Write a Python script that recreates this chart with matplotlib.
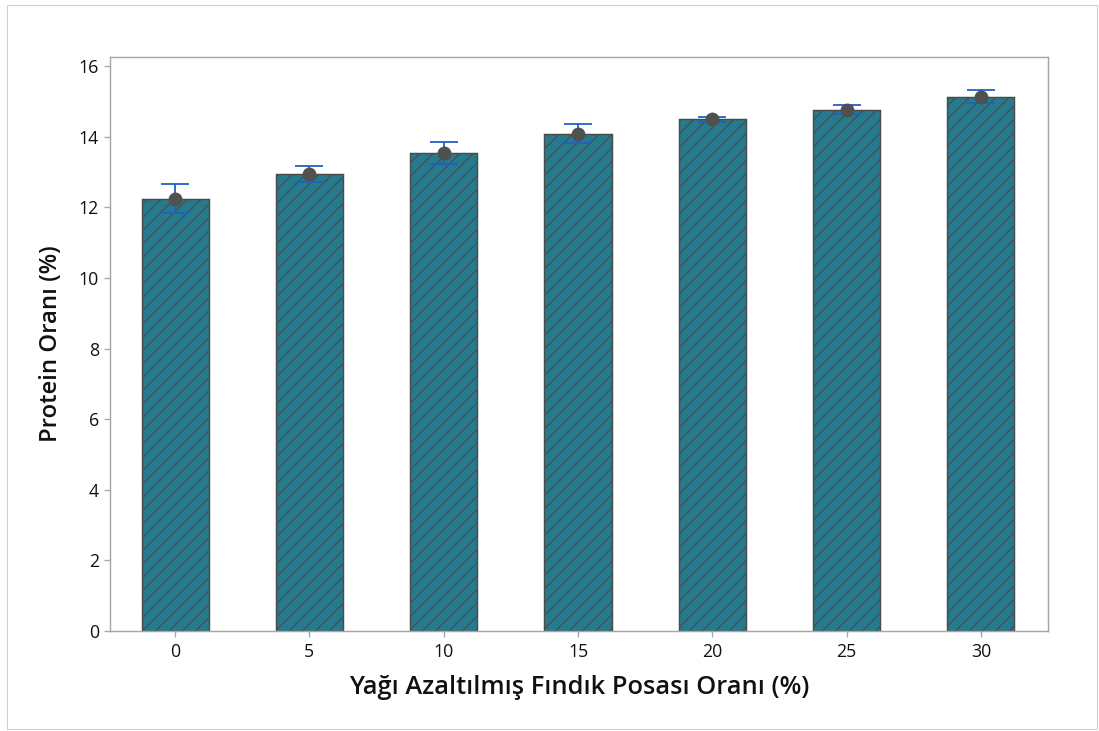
import matplotlib
matplotlib.use("Agg")
import matplotlib.pyplot as plt
from matplotlib.patches import Rectangle

categories = ["0", "5", "10", "15", "20", "25", "30"]
means = [12.25, 12.95, 13.54, 14.08, 14.49, 14.77, 15.14]
errors = [0.40, 0.23, 0.32, 0.27, 0.07, 0.13, 0.19]
yticks = [0, 2, 4, 6, 8, 10, 12, 14, 16]

plt.rcParams['font.family'] = ['Open Sans', 'DejaVu Sans']
plt.rcParams['hatch.color'] = '#4a4a4a'
plt.rcParams['hatch.linewidth'] = 1.0

DPI = 80
fig = plt.figure(figsize=(1099 / DPI, 731 / DPI), dpi=DPI)
ax = fig.add_axes([110 / 1099, 1 - 631 / 731, (1048 - 110) / 1099, (631 - 57) / 731])

x = list(range(len(categories)))
ax.bar(x, means, width=0.5, color='#267a8d', edgecolor='#4a4a4a',
       linewidth=1.3, hatch='//', zorder=2)
ax.errorbar(x, means, yerr=errors, fmt='none', ecolor='#1f5fc4',
            elinewidth=1.6, capsize=12.5, capthick=1.6, zorder=3)
ax.plot(x, means, 'o', color='#505050', markersize=12.5, zorder=4,
        markeredgewidth=0)

ax.set_xlim(-0.485, 6.5)
ax.set_ylim(0, 16.26)
ax.set_xticks(x)
ax.set_xticklabels(categories)
ax.set_yticks(yticks)

for s in ax.spines.values():
    s.set_color('#a6a6a6')
    s.set_linewidth(1.3)
ax.tick_params(axis='both', colors='#a6a6a6', length=5, width=1.2,
               labelcolor='#111111', labelsize=16)
ax.tick_params(axis='x', pad=6)
ax.tick_params(axis='y', pad=5)

ax.set_xlabel('Yağı Azaltılmış Fındık Posası Oranı (%)', fontsize=22.8,
              color='#111111', labelpad=12, fontweight='semibold')
ax.set_ylabel('Protein Oranı (%)', fontsize=21.5, color='#111111',
              labelpad=14, fontweight='semibold')

fig.patches.append(Rectangle((7 / 1099, 1 - 729 / 731), (1097 - 7) / 1099,
                             (729 - 5) / 731, transform=fig.transFigure,
                             fill=False, edgecolor='#cfcfcf', linewidth=1.0))

fig.savefig('out.png', dpi=DPI, facecolor='white')
